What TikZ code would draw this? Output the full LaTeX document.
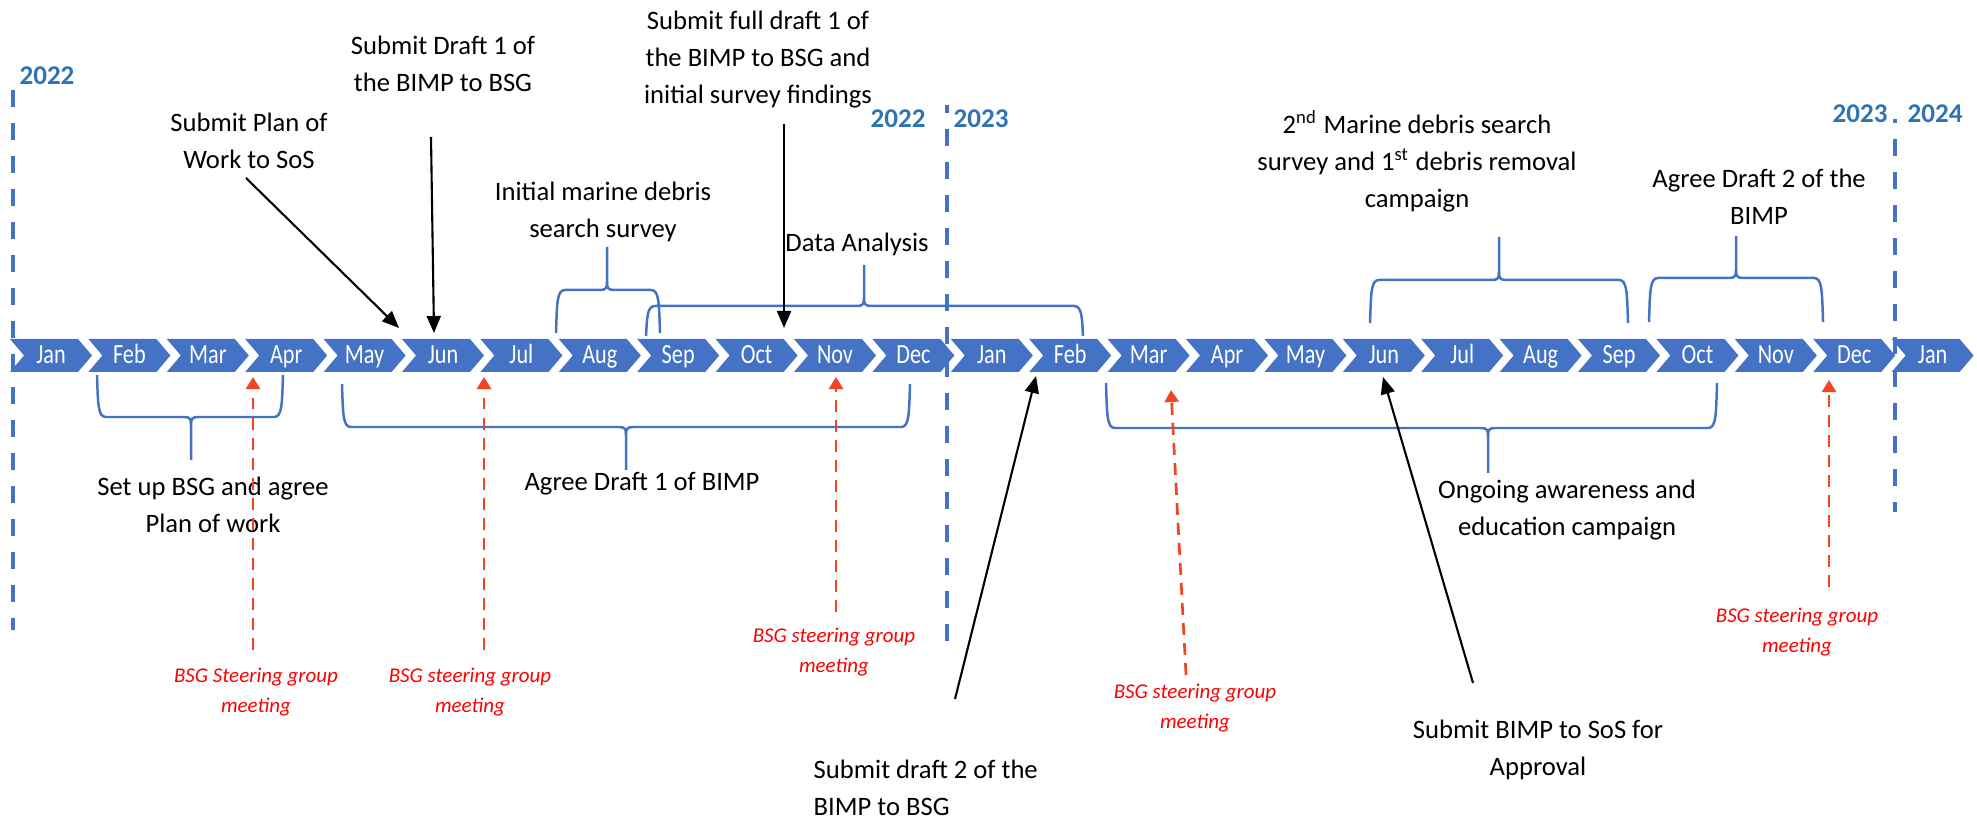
\documentclass[tikz,border=0pt]{standalone}
\usepackage{fontspec}
\setmainfont{Carlito}
\newfontfamily\monthfont{Carlito}[FakeStretch=0.8]
\usetikzlibrary{arrows.meta}
\definecolor{chev}{RGB}{68,114,196}
\definecolor{yearblue}{RGB}{46,116,181}
\definecolor{redarrow}{RGB}{244,67,35}
\definecolor{redtext}{RGB}{255,0,0}
\newcommand{\myubrace}[6]{%
  \draw[bracestyle] (#1,#4) .. controls (#1+1,#5+12) and (#1+1,#5) .. (#1+9,#5) -- (#3-7,#5) .. controls (#3-1,#5) and (#3,#5-2) .. (#3,#5-8) -- (#3,#6);
  \draw[bracestyle] (#3,#5-8) .. controls (#3,#5-2) and (#3+1,#5) .. (#3+7,#5) -- (#2-9,#5) .. controls (#2-1,#5) and (#2-1,#5+12) .. (#2,#4);
}
\newcommand{\mydbrace}[6]{%
  \draw[bracestyle] (#1,#4) .. controls (#1+1,#5-12) and (#1+1,#5) .. (#1+9,#5) -- (#3-7,#5) .. controls (#3-1,#5) and (#3,#5+2) .. (#3,#5+8) -- (#3,#6);
  \draw[bracestyle] (#3,#5+8) .. controls (#3,#5+2) and (#3+1,#5) .. (#3+7,#5) -- (#2-9,#5) .. controls (#2-1,#5) and (#2-1,#5-12) .. (#2,#4);
}
\begin{document}
\begin{tikzpicture}[x=0.01cm,y=-0.01cm,
  month/.style={font=\monthfont\fontsize{7.9}{9}\selectfont, text=white, inner sep=0pt, anchor=base},
  txt/.style={font=\fontsize{7.57}{10.53}\selectfont, align=center, inner sep=0pt},
  redtxt/.style={font=\fontsize{5.97}{8.5}\selectfont\itshape, text=redtext, align=center, inner sep=0pt},
  yeartxt/.style={font=\fontsize{7.7}{9}\selectfont\bfseries, text=yearblue, inner sep=0pt, anchor=base},
  yearline/.style={draw=chev, line width=1.28pt, dash pattern=on 4.84pt off 4.55pt},
  bracestyle/.style={draw=chev, line width=0.71pt, line join=round},
  karrow/.style={draw=black, line width=0.6pt, -{Triangle[length=0.17cm,width=0.14cm]}},
  rarrow/.style={draw=redarrow, line width=0.75pt, dash pattern=on 3.4pt off 2.3pt, -{Triangle[length=0.12cm,width=0.14cm]}}]
\useasboundingbox (0,0) rectangle (1977,819);

% chevron timeline
\foreach \m [count=\i from 0] in {Jan,Feb,Mar,Apr,May,Jun,Jul,Aug,Sep,Oct,Nov,Dec,Jan,Feb,Mar,Apr,May,Jun,Jul,Aug,Sep,Oct,Nov,Dec,Jan} {
  \pgfmathsetmacro\cx{51+78.4*\i}
  \fill[chev] (\cx-41,339) -- (\cx+27,339) -- (\cx+41,355.5) -- (\cx+27,372) -- (\cx-41,372) -- (\cx-27,355.5) -- cycle;
  \node[month] (m\i) at (\cx,363.5) {\m};
}

% year labels and dashed year lines
\node[yeartxt] (y1) at (47,85) {2022};
\node[yeartxt] (y2) at (898,128) {2022};
\node[yeartxt] (y3) at (981,128) {2023};
\node[yeartxt] (y4) at (1860,123) {2023};
\node[yeartxt] (y5) at (1935,123) {2024};
\coordinate (l1a) at (13,90);   \coordinate (l1b) at (13,630);
\coordinate (l2a) at (947,105); \coordinate (l2b) at (947,645);
\coordinate (l3a) at (1895,119); \coordinate (l3b) at (1895,512);
\draw[yearline] (l1a) -- (l1b);
\draw[yearline, dash phase=2.56pt] (l2a) -- (l2b);
\draw[yearline, dash phase=3.7pt] (l3a) -- (l3b);

% braces above
\myubrace{556}{660}{607}{333}{290}{247}
\myubrace{646}{1083}{864}{336}{306}{265}
\myubrace{1370}{1628}{1499}{323}{280}{237}
\myubrace{1649}{1823}{1736}{322}{278}{236}
% braces below
\mydbrace{97}{283}{191}{375}{417}{460}
\mydbrace{342}{910}{626}{384}{427}{470}
\mydbrace{1106}{1717}{1488}{383}{428}{473}

% black texts
\node[txt] (tplan) at (249,141) {Submit Plan of\\Work to SoS};
\node[txt] (td1) at (443,64) {Submit Draft 1 of\\the BIMP to BSG};
\node[txt] (tfull) at (758,60) {Submit full draft 1 of\\the BIMP to BSG and\\initial survey findings};
\node[txt] (tinit) at (603,212) {Initial marine debris\\search survey};
\node[txt, anchor=base] (tdata) at (857,252) {Data Analysis};
\node[txt] (t2nd) at (1417,161) {2\textsuperscript{nd} Marine debris search\\survey and 1\textsuperscript{st} debris removal\\campaign};
\node[txt] (tagr2) at (1759,197) {Agree Draft 2 of the\\BIMP};
\node[txt] (tsetup) at (213,505) {Set up BSG and agree\\Plan of work};
\node[txt, anchor=base] (tagr1) at (642,491) {Agree Draft 1 of BIMP};
\node[txt] (tongo) at (1567,510) {Ongoing awareness and\\education campaign};
\node[txt, align=left, anchor=west] (td2) at (813,788) {Submit draft 2 of the\\BIMP to BSG};
\node[txt] (tsos) at (1538,750) {Submit BIMP to SoS for\\Approval};

% black arrows
\coordinate (k1s) at (246,178);  \coordinate (k1e) at (399,328);
\coordinate (k2s) at (431,137);  \coordinate (k2e) at (434,333);
\coordinate (k3s) at (784,124);  \coordinate (k3e) at (784,328);
\coordinate (k4s) at (955,699);  \coordinate (k4e) at (1036,376);
\coordinate (k5s) at (1473,683); \coordinate (k5e) at (1383,377);
\draw[karrow] (k1s) -- (k1e);
\draw[karrow] (k2s) -- (k2e);
\draw[karrow] (k3s) -- (k3e);
\draw[karrow] (k4s) -- (k4e);
\draw[karrow] (k5s) -- (k5e);

% red steering group meetings
\node[redtxt] (r1) at (256,692) {BSG Steering group\\meeting};
\node[redtxt] (r2) at (470,692) {BSG steering group\\meeting};
\node[redtxt] (r3) at (834,652) {BSG steering group\\meeting};
\node[redtxt] (r4) at (1195,708) {BSG steering group\\meeting};
\node[redtxt] (r5) at (1797,632) {BSG steering group\\meeting};
\coordinate (q1s) at (253,650);  \coordinate (q1e) at (253,377);
\coordinate (q2s) at (484,650);  \coordinate (q2e) at (484,377);
\coordinate (q3s) at (836,612);  \coordinate (q3e) at (836,377);
\coordinate (q4s) at (1186,675); \coordinate (q4e) at (1171,390);
\coordinate (q5s) at (1829,587); \coordinate (q5e) at (1829,380);
\draw[rarrow] (q1s) -- (q1e);
\draw[rarrow] (q2s) -- (q2e);
\draw[rarrow] (q3s) -- (q3e);
\draw[rarrow] (q4s) -- (q4e);
\draw[rarrow] (q5s) -- (q5e);
\end{tikzpicture}
\end{document}
